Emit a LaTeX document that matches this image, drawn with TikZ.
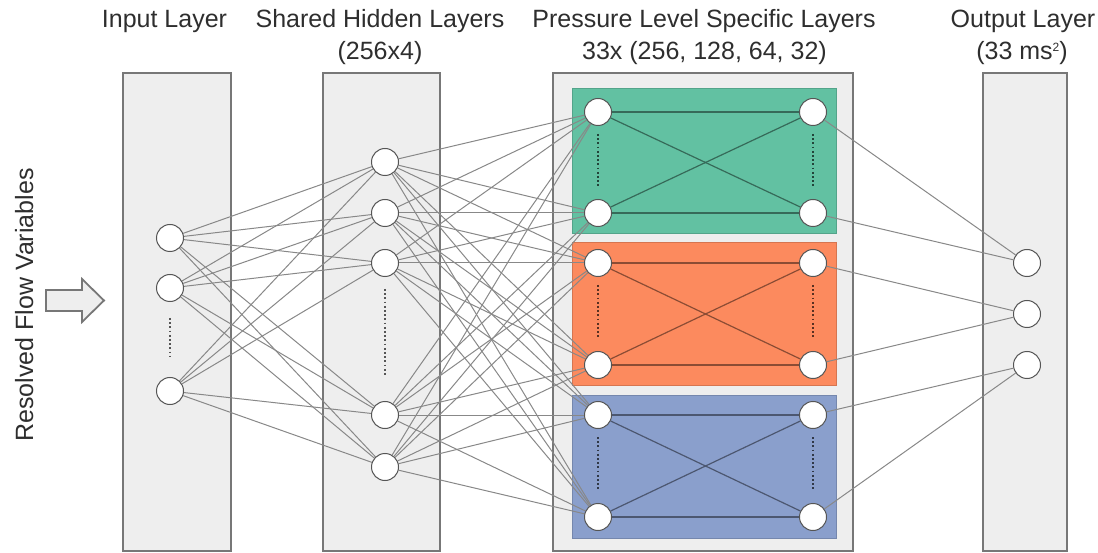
\documentclass[tikz,border=0pt]{standalone}
\usepackage{fontspec}
\setmainfont{Liberation Sans}
\definecolor{boxfill}{HTML}{EEEEEE}
\definecolor{boxline}{HTML}{777777}
\definecolor{nodeline}{HTML}{555555}
\definecolor{conn}{HTML}{888888}
\definecolor{txt}{HTML}{2E2E2E}
\definecolor{sgreen}{HTML}{62C1A2}
\definecolor{sorange}{HTML}{FC8A5E}
\definecolor{sblue}{HTML}{8A9FCC}
\pgfdeclarelayer{back}
\pgfdeclarelayer{mid}
\pgfsetlayers{back,mid,main}
\begin{document}
\begin{tikzpicture}[x=1pt,y=-1pt,
  layerbox/.style={draw=boxline, fill=boxfill, line width=1.8pt, inner sep=0pt},
  block/.style={draw=#1!85!black, fill=#1, line width=0.8pt, inner sep=0pt, minimum width=264pt},
  neuron/.style={circle, draw=nodeline, fill=white, line width=1pt, minimum size=27pt, inner sep=0pt},
  link/.style={draw=conn, line width=1pt},
  inlink/.style={draw=#1!55!black, line width=1.2pt},
  title/.style={font=\fontsize{25}{30}\selectfont, text=txt, inner sep=0pt, anchor=base},
  vdots/.style={line width=2.6pt, dash pattern=on 1.8pt off 2.4pt},
]
\useasboundingbox (0,0) rectangle (1098,553);

\begin{pgfonlayer}{back}
% layer boxes
\node[layerbox, minimum width=108pt, minimum height=478pt] (inbox) at (177,312) {};
\node[layerbox, minimum width=117pt, minimum height=478pt] (hidbox) at (381.5,312) {};
\node[layerbox, minimum width=300pt, minimum height=478pt] (prbox) at (703,312) {};
\node[layerbox, minimum width=84pt, minimum height=478pt] (outbox) at (1025,312) {};
% coloured blocks
\node[block=sgreen, minimum height=145pt] (gblock) at (704,160.5) {};
\node[block=sorange, minimum height=143pt] (oblock) at (704,313.5) {};
\node[block=sblue, minimum height=143pt] (bblock) at (704,466.5) {};
% input arrow
\draw[draw=boxline, fill=boxfill, line width=1.8pt, line join=miter]
  (46,290) -- (82,290) -- (82,279) -- (104,300.5) -- (82,322) -- (82,311) -- (46,311) -- cycle;
\end{pgfonlayer}

% titles
\node[title] (t1) at (164.5,28) {Input Layer};
\node[title] (t2a) at (380,28) {Shared Hidden Layers};
\node[title] (t2b) at (380,60) {(256x4)};
\node[title] (t3a) at (704,28) {Pressure Level Specific Layers};
\node[title] (t3b) at (704.5,60) {33x (256, 128, 64, 32)};
\node[title] (t4a) at (1023,28) {Output Layer};
\node[title] (t4b) at (1022,60) {(33 ms\raisebox{8pt}{\fontsize{12}{12}\selectfont 2})};
\node[title, rotate=90] (side) at (33,305) {Resolved Flow Variables};

% neurons
\node[neuron] (i1) at (170,238) {};
\node[neuron] (i2) at (170,288) {};
\node[neuron] (i3) at (170,391) {};
\node[neuron] (h1) at (385,162) {};
\node[neuron] (h2) at (385,213) {};
\node[neuron] (h3) at (385,263) {};
\node[neuron] (h4) at (385,415) {};
\node[neuron] (h5) at (385,467) {};
\node[neuron] (gL1) at (598,112) {};
\node[neuron] (gL2) at (598,213) {};
\node[neuron] (oL1) at (598,263) {};
\node[neuron] (oL2) at (598,365) {};
\node[neuron] (bL1) at (598,415) {};
\node[neuron] (bL2) at (598,517) {};
\node[neuron] (gR1) at (813,112) {};
\node[neuron] (gR2) at (813,213) {};
\node[neuron] (oR1) at (813,263) {};
\node[neuron] (oR2) at (813,365) {};
\node[neuron] (bR1) at (813,415) {};
\node[neuron] (bR2) at (813,517) {};
\node[neuron] (o1) at (1027,263) {};
\node[neuron] (o2) at (1027,314) {};
\node[neuron] (o3) at (1027,365) {};

\begin{pgfonlayer}{mid}
\foreach \a in {i1,i2,i3}{
  \foreach \b in {h1,h2,h3,h4,h5}{
    \draw[link] (\a) -- (\b);
  }
}
\foreach \a in {h1,h2,h3,h4,h5}{
  \foreach \b in {gL1,gL2,oL1,oL2,bL1,bL2}{
    \draw[link] (\a) -- (\b);
  }
}
\draw[link] (gR1) -- (o1);
\draw[link] (gR2) -- (o1);
\draw[link] (oR1) -- (o2);
\draw[link] (oR2) -- (o2);
\draw[link] (bR1) -- (o3);
\draw[link] (bR2) -- (o3);

% block internal connections
\foreach \p/\c in {g/sgreen,o/sorange,b/sblue}{
  \draw[inlink=\c] (\p L1) -- (\p R1);
  \draw[inlink=\c] (\p L2) -- (\p R2);
  \draw[inlink=\c] (\p L1) -- (\p R2);
  \draw[inlink=\c] (\p L2) -- (\p R1);
  \draw[vdots, draw=\c!35!black, shorten <=8pt, shorten >=12pt] (\p L1) -- (\p L2);
  \draw[vdots, draw=\c!35!black, shorten <=8pt, shorten >=12pt] (\p R1) -- (\p R2);
}

% dotted ellipses in input and hidden layers
\draw[vdots, draw=nodeline, shorten <=16pt, shorten >=20pt] (i2) -- (i3);
\draw[vdots, draw=nodeline, shorten <=12pt, shorten >=24pt] (h3) -- (h4);
\end{pgfonlayer}
\end{tikzpicture}
\end{document}
